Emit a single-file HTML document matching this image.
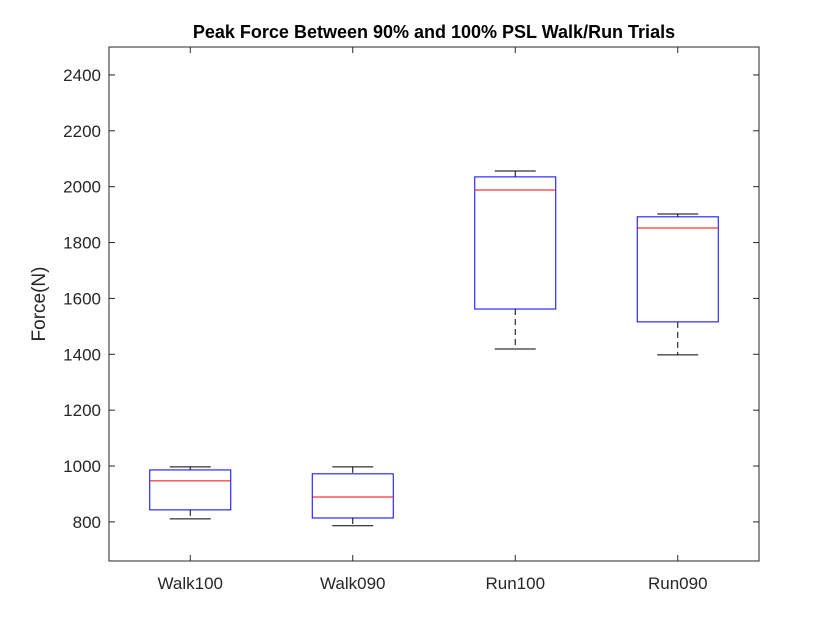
<!DOCTYPE html>
<html>
<head>
<meta charset="utf-8">
<style>
  html, body { margin: 0; padding: 0; background: #fff; }
  body { width: 840px; height: 630px; overflow: hidden; font-family: "Liberation Sans", Arial, sans-serif; }
  svg text { font-family: "Liberation Sans", Arial, sans-serif; fill: #262626; }
</style>
</head>
<body>
<svg id="chart" width="840" height="630"></svg>
<script>
const categories = ["Walk100", "Walk090", "Run100", "Run090"];
const whiskerHigh = [997, 997, 2056, 1902];
const boxHigh = [986, 972, 2035, 1892];
const medians = [947, 889, 1988, 1852];
const boxLow = [843, 814, 1562, 1516];
const whiskerLow = [811, 786, 1419, 1398];
const yTicks = [800, 1000, 1200, 1400, 1600, 1800, 2000, 2200, 2400];

const NS = "http://www.w3.org/2000/svg";
const svg = document.getElementById("chart");
const L = 109, R = 759, T = 47, B = 561;
const yMin = 660, yMax = 2500;
function y(v) { return B - (v - yMin) / (yMax - yMin) * (B - T); }
function x(i) { return L + (i + 0.5) * (R - L) / categories.length; }
function el(tag, attrs, parent) {
  const e = document.createElementNS(NS, tag);
  for (const k in attrs) e.setAttribute(k, attrs[k]);
  (parent || svg).appendChild(e);
  return e;
}

const frame = el("rect", {x: L, y: T, width: R - L, height: B - T, fill: "#fff", stroke: "#262626", "stroke-width": 1});



yTicks.forEach(v => {
  const g = el("g", {});
  
  
  el("line", {x1: L, x2: L + 6, y1: y(v), y2: y(v), stroke: "#262626"}, g);
  el("line", {x1: R, x2: R - 6, y1: y(v), y2: y(v), stroke: "#262626"}, g);
  const t = el("text", {x: L - 8, y: y(v) + 6, "text-anchor": "end", "font-size": 17}, g);
  t.textContent = v;
});

categories.forEach((c, i) => {
  const cx = x(i);
  const g = el("g", {});
  
  
  el("line", {x1: cx, x2: cx, y1: B, y2: B - 6, stroke: "#262626"}, g);
  el("line", {x1: cx, x2: cx, y1: T, y2: T + 6, stroke: "#262626"}, g);
  const hw = 40.5, cw = 20.5;
  el("line", {x1: cx, x2: cx, y1: y(whiskerHigh[i]), y2: y(boxHigh[i]), stroke: "#000", "stroke-dasharray": "6,4"}, g);
  el("line", {x1: cx, x2: cx, y1: y(boxLow[i]), y2: y(whiskerLow[i]), stroke: "#000", "stroke-dasharray": "6,4"}, g);
  el("line", {x1: cx - cw, x2: cx + cw, y1: y(whiskerHigh[i]), y2: y(whiskerHigh[i]), stroke: "#000"}, g);
  el("line", {x1: cx - cw, x2: cx + cw, y1: y(whiskerLow[i]), y2: y(whiskerLow[i]), stroke: "#000"}, g);
  el("rect", {x: cx - hw, y: y(boxHigh[i]), width: 2 * hw, height: y(boxLow[i]) - y(boxHigh[i]), fill: "none", stroke: "#0000ff"}, g);
  el("line", {x1: cx - hw, x2: cx + hw, y1: y(medians[i]), y2: y(medians[i]), stroke: "#ff0000"}, g);
  const t = el("text", {x: cx, y: B + 28, "text-anchor": "middle", "font-size": 17});
  
  
  t.textContent = c;
});

const title = el("text", {x: (L + R) / 2, y: 38, "text-anchor": "middle", "font-size": 18, "font-weight": "bold", style: "fill:#000"});


title.textContent = "Peak Force Between 90% and 100% PSL Walk/Run Trials";

const yt = el("text", {x: 0, y: 0, "text-anchor": "middle", "font-size": 19, transform: "translate(45," + ((T + B) / 2) + ") rotate(-90)"});


yt.textContent = "Force(N)";
</script>
</body>
</html>
